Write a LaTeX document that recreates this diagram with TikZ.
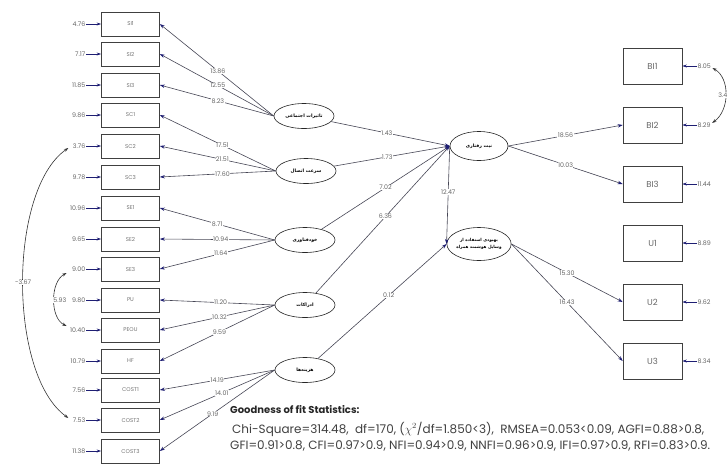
\documentclass[tikz,border=0pt]{standalone}
\usepackage{fontspec}
\setmainfont{Poppins}
\newfontfamily\arabicfont[Script=Arabic]{DejaVu Sans}
\TeXXeTstate=1
\usetikzlibrary{shapes.geometric,arrows.meta}
\definecolor{navyc}{RGB}{30,30,115}
\definecolor{linec}{RGB}{70,70,85}
\begin{document}
\begin{tikzpicture}[x=1pt,y=-1pt,
  ind/.style={draw=black!75, line width=0.6pt, minimum width=58pt, minimum height=24pt, inner sep=0pt, font=\fontsize{5.5}{6}\selectfont, text=black!55},
  indr/.style={draw=black!75, line width=0.6pt, minimum width=59pt, minimum height=36pt, inner sep=0pt, font=\fontsize{8.5}{10}\selectfont, text=black!60},
  lat/.style={ellipse, draw=black!85, line width=0.6pt, minimum width=60pt, minimum height=25pt, inner sep=0pt, font=\arabicfont\bfseries\fontsize{4.6}{6}\selectfont},
  num/.style={font=\fontsize{6.3}{7}\selectfont, text=black!60, inner sep=0.4pt},
  lab/.style={num, fill=white},
  pth/.style={draw=linec, line width=0.6pt, -{Stealth[length=5pt,width=3.4pt,color=navyc]}},
  err/.style={draw=navyc, line width=0.6pt, -{Stealth[length=4.5pt,width=3pt]}},
  cov/.style={draw=black!80, line width=0.6pt, {Stealth[length=4.5pt,width=3pt]}-{Stealth[length=4.5pt,width=3pt]}},
  stat/.style={anchor=west, font=\fontsize{12}{14}\selectfont, text=black!75, inner sep=0pt},
  ]
\useasboundingbox (0,0) rectangle (728,469);

% left indicators
\foreach \n/\t/\y/\e in {
  SIa/SI1/24/4.76, SIb/SI2/54/7.17, SIc/SI3/85/11.85,
  SCa/SC1/115/9.86, SCb/SC2/146/3.76, SCc/SC3/177/9.78,
  SEa/SE1/208/10.96, SEb/SE2/239/9.65, SEc/SE3/269/9.00,
  PU/PU/300/9.80, PEOU/PEOU/330/10.40, HF/HF/361/10.79,
  COa/COST1/390/7.56, COb/COST2/420/7.53, COc/COST3/451/11.38}{
  \node[ind] (\n) at (130.5,\y) {\t};
  \node[num, anchor=east] (e\n) at (86,\y) {\e};
  \draw[err] (e\n.east) -- (\n.west);
}

% right indicators
\foreach \n/\t/\y/\e in {
  BIa/BI1/66/8.05, BIb/BI2/125/8.29, BIc/BI3/184/11.44,
  Ua/U1/243/8.89, Ub/U2/302/9.62, Uc/U3/361/8.34}{
  \node[indr] (\n) at (652.5,\y) {\t};
  \node[num, anchor=west] (e\n) at (697,\y) {\e};
  \draw[err] (e\n.west) -- (\n.east);
}

% latent variables
\node[lat] (SI) at (304,116) {\beginR تاثیرات اجتماعی\endR};
\node[lat] (SC) at (306,171) {\beginR سرعت اتصال\endR};
\node[lat] (SE) at (305,240) {\beginR خودفناوری\endR};
\node[lat] (PR) at (305,305) {\beginR ادراکات\endR};
\node[lat] (CO) at (305,370) {\beginR هزینه‌ها\endR};
\node[lat, minimum width=58pt, minimum height=29pt] (BI) at (479,146) {\beginR نیت رفتاری\endR};
\node[lat, minimum width=58pt, minimum height=33pt, align=center, font=\arabicfont\bfseries\fontsize{4.2}{6.5}\selectfont] (US) at (479,244) {\beginR بهبودی استفاده از\endR\\\beginR وسایل هوشمند همراه\endR};

% loadings
\draw[pth] (SI.west) -- node[lab, pos=0.49] {13.86} (SIa.east);
\draw[pth] (SI.west) -- node[lab, pos=0.49] {12.55} (SIb.east);
\draw[pth] (SI.west) -- node[lab, pos=0.49] {8.23} (SIc.east);
\draw[pth] (SC.west) -- node[lab, pos=0.46] {17.51} (SCa.east);
\draw[pth] (SC.west) -- node[lab, pos=0.46] {21.51} (SCb.east);
\draw[pth] (SC.west) -- node[lab, pos=0.46] {17.60} (SCc.east);
\draw[pth] (SE.west) -- node[lab, pos=0.5] {8.71} (SEa.east);
\draw[pth] (SE.west) -- node[lab, pos=0.47] {10.94} (SEb.east);
\draw[pth] (SE.west) -- node[lab, pos=0.47] {11.64} (SEc.east);
\draw[pth] (PR.west) -- node[lab, pos=0.47] {11.20} (PU.east);
\draw[pth] (PR.west) -- node[lab, pos=0.48] {10.32} (PEOU.east);
\draw[pth] (PR.west) -- node[lab, pos=0.48] {9.59} (HF.east);
\draw[pth] (CO.west) -- node[lab, pos=0.5] {14.19} (COa.east);
\draw[pth] (CO.west) -- node[lab, pos=0.46] {14.01} (COb.east);
\draw[pth] (CO.west) -- node[lab, pos=0.54] {9.19} (COc.east);

% structural paths
\draw[pth] (SI) -- node[lab, pos=0.47] {1.43} (BI.west);
\draw[pth] (SC) -- node[lab, pos=0.46] {1.73} (BI.west);
\draw[pth] (SE) -- node[lab, pos=0.5] {7.02} (BI.west);
\draw[pth] (PR) -- node[lab, pos=0.52] {6.36} (BI.west);
\draw[pth] (CO) -- node[lab, pos=0.55] {0.12} (US.west);
\draw[pth] (BI.west) -- node[lab, pos=0.47] {12.47} (US.west);

\draw[pth] (BI.east) -- node[lab, pos=0.5] {18.56} (BIb.west);
\draw[pth] (BI.east) -- node[lab, pos=0.5] {10.03} (BIc.west);
\draw[pth] (US.east) -- node[lab, pos=0.5] {15.30} (Ub.west);
\draw[pth] (US.east) -- node[lab, pos=0.5] {16.43} (Uc.west);

% covariances
\draw[cov] ([shift={(-4,2)}]eSCb.west) .. controls (8,190) and (8,375) .. node[lab, pos=0.5] {-3.67} ([shift={(-4,-2)}]eCOb.west);
\draw[cov] ([shift={(-5,4)}]eSEc.west) .. controls (50,282) and (50,318) .. ([shift={(-3,-4)}]ePEOU.west);
\node[lab, anchor=east] (c593) at (67,300) {5.93};
\draw[cov] ([shift={(1,2)}]eBIa.east) .. controls (730,78) and (730,110) .. ([shift={(1,-2)}]eBIb.east);
\node[lab, anchor=east] (c34) at (728,95) {3.4};

% fit statistics
\node[anchor=west, font=\bfseries\fontsize{10}{12}\selectfont, text=black!85, inner sep=0pt] (gf) at (230,410) {Goodness of fit Statistics:};
\node[stat] (l1) at (232,429) {Chi-Square=314.48,\ \ df=170, ($\chi^2$/df=1.850<3),\ \ RMSEA=0.053<0.09, AGFI=0.88>0.8,};
\node[stat] (l2) at (230,446) {GFI=0.91>0.8, CFI=0.97>0.9, NFI=0.94>0.9, NNFI=0.96>0.9, IFI=0.97>0.9, RFI=0.83>0.9.};
\end{tikzpicture}
\end{document}
